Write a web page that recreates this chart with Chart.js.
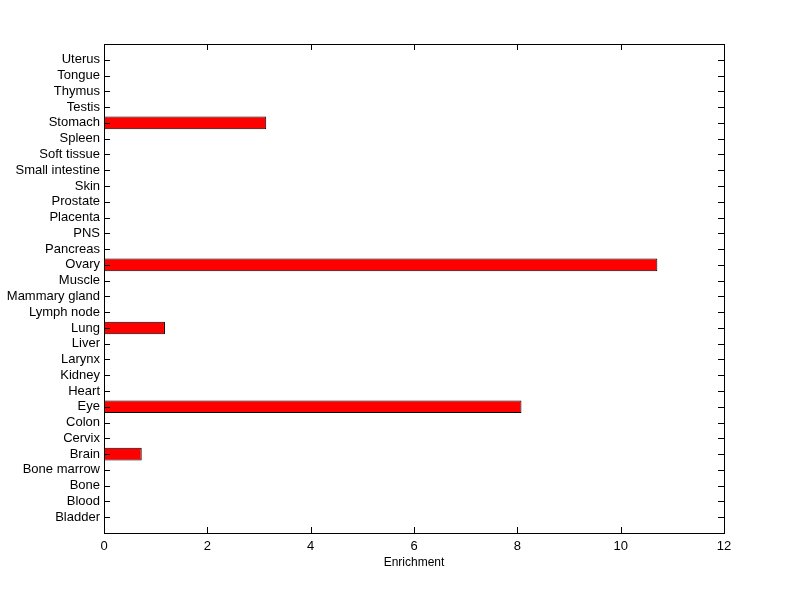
<!DOCTYPE html>
<html>
<head>
<meta charset="utf-8">
<script src="https://cdn.jsdelivr.net/npm/chart.js@4/dist/chart.umd.min.js"></script>
<style>
  body { margin: 0; background: #fff; }
  #wrap { width: 800px; height: 599px; }
</style>
</head>
<body>
<div id="wrap"><canvas id="myChart" width="800" height="599"></canvas></div>
<script>
// tissues, top to bottom as shown
let tissues = ['Uterus', 'Tongue', 'Thymus', 'Testis', 'Stomach', 'Spleen', 'Soft tissue',
  'Small intestine', 'Skin', 'Prostate', 'Placenta', 'PNS', 'Pancreas', 'Ovary', 'Muscle',
  'Mammary gland', 'Lymph node', 'Lung', 'Liver', 'Larynx', 'Kidney', 'Heart', 'Eye',
  'Colon', 'Cervix', 'Brain', 'Bone marrow', 'Bone', 'Blood', 'Bladder'];
let enrichment = [0, 0, 0, 0, 3.14, 0, 0,
  0, 0, 0, 0, 0, 0, 10.71, 0,
  0, 0, 1.18, 0, 0, 0, 0, 8.08,
  0, 0, 0.73, 0, 0, 0, 0];
let xTicks = [0, 2, 4, 6, 8, 10, 12];

// blank slot at each end so the axis runs a full step past first/last tissue
let labels = [''].concat(tissues, ['']);
let values = [null].concat(enrichment, [null]);

const boxTicks = {
  id: 'boxTicks',
  afterDraw(chart) {
    const c = chart.ctx;
    const a = chart.chartArea;
    const xs = chart.scales.x;
    const ys = chart.scales.y;
    c.save();
    c.strokeStyle = '#000';
    c.lineWidth = 1;
    c.beginPath();
    // x ticks, bottom and top, pointing in
    xTicks.forEach(v => {
      let px = Math.round(xs.getPixelForValue(v)) + 0.5;
      c.moveTo(px, a.bottom); c.lineTo(px, a.bottom - 6);
      c.moveTo(px, a.top); c.lineTo(px, a.top + 6);
    });
    // y ticks, left and right
    for (let i = 1; i < labels.length - 1; i++) {
      let py = Math.round(ys.getPixelForValue(i)) + 0.5;
      c.moveTo(a.left, py); c.lineTo(a.left + 6, py);
      c.moveTo(a.right, py); c.lineTo(a.right - 6, py);
    }
    c.stroke();
    c.strokeRect(Math.round(a.left) + 0.5, Math.round(a.top) + 0.5,
      Math.round(a.right - a.left), Math.round(a.bottom - a.top));
    c.restore();
  }
};

let ctx = document.getElementById('myChart').getContext('2d');
const myChart = new Chart(ctx, {
  type: 'bar',
  data: {
    labels: labels,
    datasets: [{
      label: 'Enrichment',
      data: values,
      backgroundColor: '#ff0000',
      borderColor: '#000000',
      borderWidth: 1,
      borderSkipped: false,
      barPercentage: 0.8,
      categoryPercentage: 1
    }]
  },
  options: {
    indexAxis: 'y',
    responsive: false,
    animation: false,
    layout: { padding: { top: 44, right: 76, left: 0, bottom: 29 } },
    plugins: { legend: { display: false }, tooltip: { enabled: false } },
    scales: {
      x: {
        type: 'linear',
        min: 0,
        max: 12,
        afterBuildTicks: (s) => { s.ticks = xTicks.map(v => ({ value: v })); },
        grid: { display: false, drawTicks: false },
        border: { display: false },
        ticks: { color: '#000', padding: 6, font: { family: 'Liberation Sans, Arial', size: 13 } },
        title: {
          display: true, text: 'Enrichment', color: '#000', padding: { top: 0, bottom: 0 },
          font: { family: 'Liberation Sans, Arial', size: 12 }
        },
        afterFit: (s) => { s.height = 37; }
      },
      y: {
        type: 'category',
        offset: false,
        grid: { display: false, drawTicks: false },
        border: { display: false },
        ticks: { color: '#000', padding: 4, autoSkip: false, font: { family: 'Liberation Sans, Arial', size: 13 } },
        afterFit: (s) => { s.width = 104; }
      }
    }
  },
  plugins: [boxTicks]
});
</script>
</body>
</html>
